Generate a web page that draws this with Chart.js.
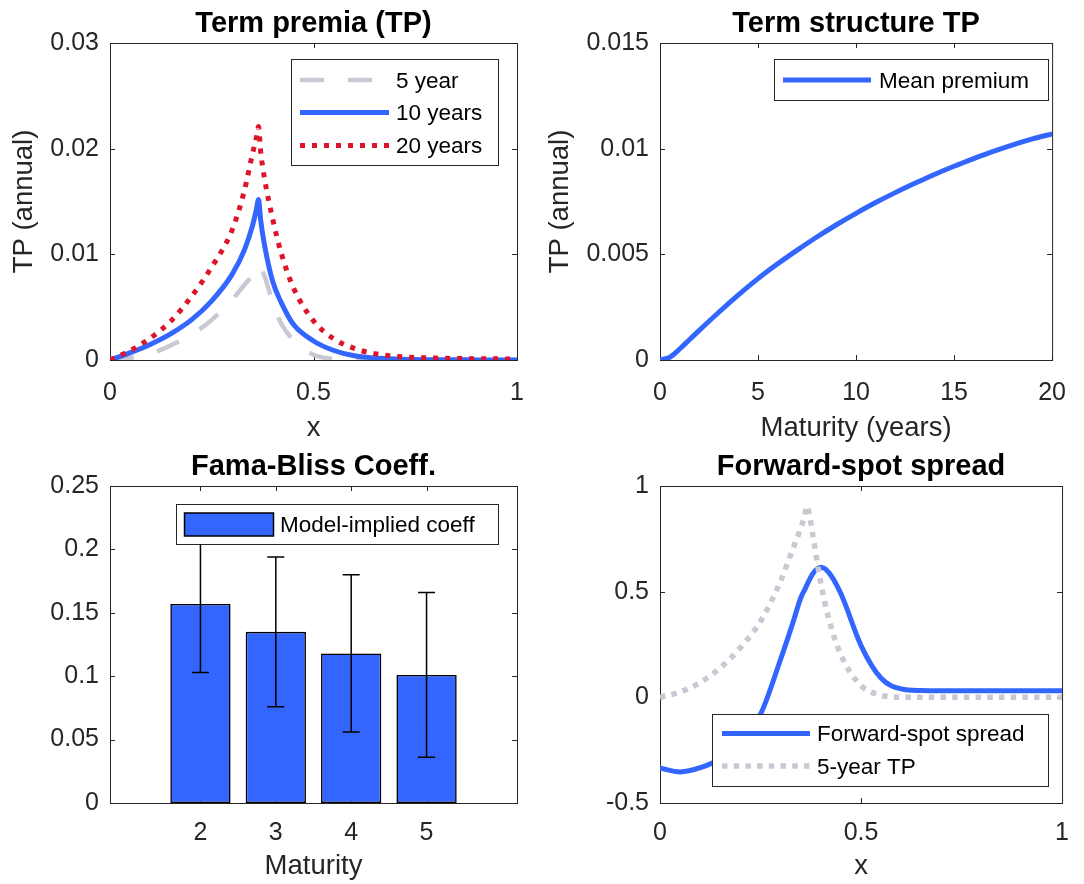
<!DOCTYPE html>
<html>
<head>
<meta charset="utf-8">
<script src="https://cdn.jsdelivr.net/npm/chart.js@4.4.1/dist/chart.umd.min.js"></script>
<style>
  body { margin: 0; background: #fff; width: 1084px; height: 884px; position: relative; overflow: hidden; }
  canvas { position: absolute; }
</style>
</head>
<body>
<canvas id="tp" width="542" height="450" style="left:0;top:0;width:542px;height:450px"></canvas>
<canvas id="ts" width="542" height="450" style="left:542px;top:0;width:542px;height:450px"></canvas>
<canvas id="fb" width="542" height="442" style="left:0;top:442px;width:542px;height:442px"></canvas>
<canvas id="fs" width="542" height="442" style="left:542px;top:442px;width:542px;height:442px"></canvas>
<script>
// --- datos ---
// Term premia (TP) por x
const tpX  = [0, 0.05, 0.1, 0.15, 0.2, 0.25, 0.3, 0.33, 0.35, 0.36, 0.365, 0.37, 0.38, 0.4, 0.42, 0.45, 0.5, 0.55, 0.6, 0.65, 0.7, 0.8, 0.9, 1];
const tp5  = [0, 0.0002, 0.0006, 0.0014, 0.0024, 0.0038, 0.0057, 0.0071, 0.0080, 0.0086, 0.0090, 0.0087, 0.0079, 0.0054, 0.0035, 0.0019, 0.0005, 0.0001, 0, 0, 0, 0, 0, 0];
const tp10 = [0, 0.0007, 0.0015, 0.0025, 0.0038, 0.0056, 0.0081, 0.0104, 0.0127, 0.0143, 0.0152, 0.0133, 0.0108, 0.0074, 0.0055, 0.0034, 0.0018, 0.0009, 0.0004, 0.0002, 0.0001, 0.00003, 0.00001, 0];
const tp20 = [0, 0.0009, 0.0021, 0.0037, 0.0060, 0.0088, 0.0123, 0.0160, 0.0195, 0.0211, 0.0221, 0.0198, 0.0171, 0.0133, 0.0102, 0.0069, 0.0037, 0.0020, 0.0011, 0.0006, 0.00035, 0.00018, 0.00012, 0.0001];

// Term structure TP
const matYears = [0, 0.5, 1, 1.5, 2, 3, 4, 5, 6, 7, 8, 9, 10, 11, 12, 13, 14, 15, 16, 17, 18, 19, 20];
const meanTP   = [0, 0.00013, 0.00052, 0.00096, 0.0014, 0.00226, 0.00308, 0.00385, 0.00455, 0.0052, 0.00582, 0.0064, 0.00694, 0.00745, 0.00792, 0.00836, 0.00878, 0.00917, 0.00953, 0.00987, 0.01018, 0.01046, 0.0107];

// Fama-Bliss
const fbMat  = [2, 3, 4, 5];
const fbCoef = [0.157, 0.135, 0.118, 0.101];
const fbErr  = [0.054, 0.059, 0.062, 0.065];

// Forward-spot spread
const fsX      = [0, 0.05, 0.1, 0.15, 0.2, 0.25, 0.3, 0.33, 0.35, 0.36, 0.365, 0.37, 0.38, 0.4, 0.42, 0.45, 0.5, 0.55, 0.6, 0.65, 0.7, 0.8, 0.9, 1];
const fsSpread = [-0.335, -0.353, -0.333, -0.29, -0.2, -0.08, 0.18, 0.35, 0.47, 0.51, 0.53, 0.55, 0.585, 0.615, 0.59, 0.49, 0.245, 0.09, 0.04, 0.032, 0.031, 0.031, 0.031, 0.031];
const fsTP5    = [0, 0.025, 0.07, 0.14, 0.235, 0.36, 0.55, 0.70, 0.80, 0.86, 0.905, 0.88, 0.77, 0.54, 0.37, 0.2, 0.055, 0.01, 0, 0, 0, 0, 0, 0];

// ticks
const xTicksUnit = [0, 0.5, 1];
const yTicksTP   = [0, 0.01, 0.02, 0.03];
const xTicksMat  = [0, 5, 10, 15, 20];
const yTicksTS   = [0, 0.005, 0.01, 0.015];
const xTicksFB   = [2, 3, 4, 5];
const yTicksFB   = [0, 0.05, 0.1, 0.15, 0.2, 0.25];
const yTicksFS   = [-0.5, 0, 0.5, 1];

const BLUE = "rgb(51,102,255)";
const RED = "rgb(222,20,42)";
const GRAY = "rgb(201,200,211)";
const AX = "#262626";

Chart.defaults.font.family = "'Liberation Sans', Arial, Helvetica, sans-serif";
Chart.defaults.color = AX;

const pts = (xs, ys) => xs.map((x, i) => ({ x: x, y: ys[i] }));

// Marco con ticks hacia dentro (estilo MATLAB)
const frame = {
  id: "frame",
  beforeDatasetsDraw(chart) {
    const { ctx, chartArea: a, scales } = chart;
    ctx.save();
    ctx.strokeStyle = AX;
    ctx.lineWidth = 1;
    ctx.strokeRect(a.left + 0.5, a.top + 0.5, a.right - a.left, a.bottom - a.top);
    ctx.beginPath();
    scales.x.ticks.forEach(t => {
      const p = Math.round(scales.x.getPixelForValue(t.value)) + 0.5;
      ctx.moveTo(p, a.bottom); ctx.lineTo(p, a.bottom - 5);
      ctx.moveTo(p, a.top); ctx.lineTo(p, a.top + 5);
    });
    scales.y.ticks.forEach(t => {
      const p = Math.round(scales.y.getPixelForValue(t.value)) + 0.5;
      ctx.moveTo(a.left, p); ctx.lineTo(a.left + 5, p);
      ctx.moveTo(a.right, p); ctx.lineTo(a.right - 5, p);
    });
    ctx.stroke();
    ctx.restore();
  }
};

// Barras de error
const errBars = {
  id: "errBars",
  afterDatasetsDraw(chart) {
    const ctx = chart.ctx, ys = chart.scales.y;
    chart.data.datasets.forEach((ds, di) => {
      if (!ds.errors) return;
      const meta = chart.getDatasetMeta(di);
      ctx.save();
      ctx.strokeStyle = "#000";
      ctx.lineWidth = 1.5;
      ctx.beginPath();
      meta.data.forEach((bar, i) => {
        const y1 = ys.getPixelForValue(ds.data[i] - ds.errors[i]);
        const y2 = ys.getPixelForValue(ds.data[i] + ds.errors[i]);
        ctx.moveTo(bar.x, y1); ctx.lineTo(bar.x, y2);
        ctx.moveTo(bar.x - 8.5, y1); ctx.lineTo(bar.x + 8.5, y1);
        ctx.moveTo(bar.x - 8.5, y2); ctx.lineTo(bar.x + 8.5, y2);
      });
      ctx.stroke();
      ctx.restore();
    });
  }
};

// Leyenda con caja dentro del área
const boxLegend = {
  id: "boxLegend",
  afterDraw(chart, args, o) {
    if (!o || !o.w) return;
    const ctx = chart.ctx;
    ctx.save();
    ctx.fillStyle = "#fff";
    ctx.fillRect(o.x, o.y, o.w, o.h);
    ctx.strokeStyle = AX;
    ctx.lineWidth = 1;
    ctx.strokeRect(o.x + 0.5, o.y + 0.5, o.w, o.h);
    ctx.font = "22.5px 'Liberation Sans', Arial, sans-serif";
    ctx.textBaseline = "middle";
    chart.data.datasets.forEach((ds, i) => {
      const cy = o.y + o.rows[i];
      if (chart.config.type === "bar") {
        ctx.fillStyle = ds.backgroundColor;
        ctx.fillRect(o.x + o.sx, cy - 11.5, o.sw, 23);
        ctx.strokeStyle = "#000";
        ctx.lineWidth = 1.5;
        ctx.strokeRect(o.x + o.sx, cy - 11.5, o.sw, 23);
      } else {
        ctx.setLineDash(ds.borderDash || []);
        ctx.strokeStyle = ds.borderColor;
        ctx.lineWidth = ds.borderWidth;
        ctx.beginPath();
        ctx.moveTo(o.x + o.sx, cy);
        ctx.lineTo(o.x + o.sx + o.sw, cy);
        ctx.stroke();
        ctx.setLineDash([]);
      }
      ctx.fillStyle = "#000";
      ctx.fillText(ds.label, o.x + o.tx, cy + 1.5);
    });
    ctx.restore();
  }
};

function axis(min, max, ticks, title, tickPad, titlePad, size, horizontal) {
  return {
    type: "linear",
    min: min,
    max: max,
    offset: false,
    grid: { display: false, drawTicks: false },
    border: { display: false },
    ticks: {
      padding: tickPad, autoSkip: false, maxRotation: 0,
      font: { size: 25 }, color: AX,
      callback: v => String(v)
    },
    afterBuildTicks: s => { s.ticks = ticks.map(v => ({ value: v })); },
    afterFit: s => { if (horizontal) s.height = size; else s.width = size; },
    title: { display: !!title, text: title, color: AX, font: { size: 27.5 }, padding: titlePad }
  };
}

function panel(id, cfg) {
  return new Chart(document.getElementById(id), {
    type: cfg.type,
    data: cfg.data,
    options: {
      animation: false,
      responsive: false,
      events: [],
      layout: { padding: { left: 0, right: cfg.padRight, top: 0, bottom: 0 } },
      plugins: {
        legend: { display: false },
        tooltip: { enabled: false },
        title: {
          display: true, text: cfg.title, fullSize: false, color: "#000",
          font: { size: 29, weight: "bold" },
          padding: { top: cfg.titleTop, bottom: 1.2 }
        },
        boxLegend: cfg.legend
      },
      scales: { x: cfg.x, y: cfg.y }
    },
    plugins: [frame, errBars, boxLegend]
  });
}

function line(label, xs, ys, color, width, dash, order) {
  return {
    label: label, data: pts(xs, ys), borderColor: color, borderWidth: width,
    borderDash: dash, borderCapStyle: "butt", borderJoinStyle: "round",
    pointRadius: 0, cubicInterpolationMode: "monotone", fill: false, order: order
  };
}

// 1. Term premia
panel("tp", {
  type: "line",
  title: "Term premia (TP)",
  titleTop: 7,
  padRight: 25,
  data: {
    datasets: [
      line("5 year", tpX, tp5, GRAY, 4.5, [24, 24], 3),
      line("10 years", tpX, tp10, BLUE, 5, [], 2),
      line("20 years", tpX, tp20, RED, 5, [5, 7], 1)
    ]
  },
  x: axis(0, 1, xTicksUnit, "x", 18, { bottom: 5 }, 90, true),
  y: axis(0, 0.03, yTicksTP, "TP (annual)", 11, { top: 8.2 }, 110, false),
  legend: { x: 291, y: 59, w: 207, h: 106, rows: [21, 53.5, 86.5], sx: 9, sw: 89, tx: 105 }
});

// 2. Term structure TP
panel("ts", {
  type: "line",
  title: "Term structure TP",
  titleTop: 7,
  padRight: 18,
  data: {
    datasets: [line("Mean premium", matYears, meanTP, BLUE, 5, [], 1)]
  },
  x: axis(0, 20, xTicksMat, "Maturity (years)", 18, { bottom: 5 }, 90, true),
  y: axis(0, 0.015, yTicksTS, "TP (annual)", 11, { top: 1.7 }, 118, false),
  legend: { x: 232, y: 59, w: 274, h: 41, rows: [21], sx: 9, sw: 88, tx: 105 }
});

// 3. Fama-Bliss
panel("fb", {
  type: "bar",
  title: "Fama-Bliss Coeff.",
  titleTop: 8,
  padRight: 25,
  data: {
    labels: fbMat,
    datasets: [{
      label: "Model-implied coeff", data: fbCoef, errors: fbErr,
      backgroundColor: BLUE, borderColor: "#000", borderWidth: 1.6, borderSkipped: false,
      barPercentage: 0.8, categoryPercentage: 1
    }]
  },
  x: axis(0.8, 6.2, xTicksFB, "Maturity", 15, { bottom: 1 }, 81, true),
  y: axis(0, 0.25, yTicksFB, "", 11, {}, 110, false),
  legend: { x: 176, y: 62, w: 322, h: 40, rows: [20.5], sx: 8.5, sw: 89, tx: 104 }
});

// 4. Forward-spot spread
panel("fs", {
  type: "line",
  title: "Forward-spot spread",
  titleTop: 8,
  padRight: 18,
  data: {
    datasets: [
      line("Forward-spot spread", fsX, fsSpread, BLUE, 5, [], 2),
      line("5-year TP", fsX, fsTP5, GRAY, 5.5, [5.5, 6.2], 1)
    ]
  },
  x: axis(0, 1, xTicksUnit, "x", 15, { bottom: 1 }, 81, true),
  y: axis(-0.5, 1, yTicksFS, "", 11, {}, 118, false),
  legend: { x: 170, y: 272, w: 336, h: 72, rows: [19.6, 52], sx: 10, sw: 88, tx: 105 }
});
</script>
</body>
</html>
